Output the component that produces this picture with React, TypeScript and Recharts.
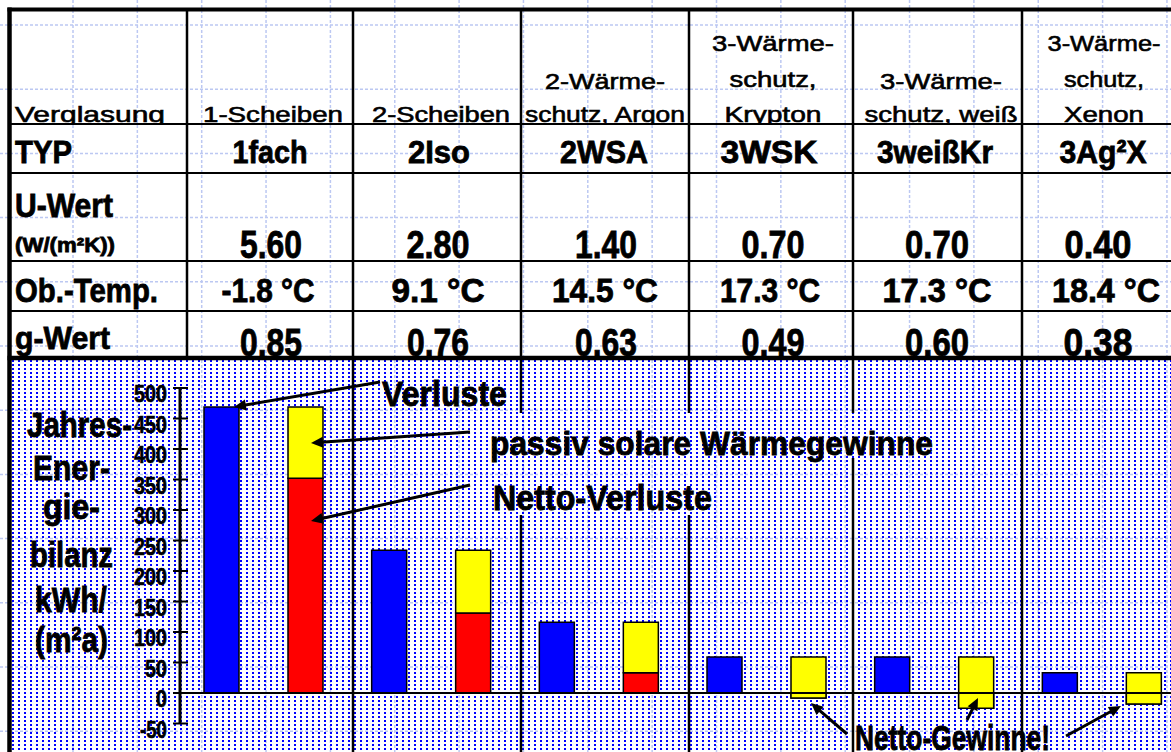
import React from 'react';
import { BarChart, Bar, XAxis, YAxis, ReferenceLine } from 'recharts';

// ---------- data ----------
const typen = ['1fach', '2Iso', '2WSA', '3WSK', '3weißKr', '3Ag²X'];
const verglasung = [
  ['1-Scheiben'],
  ['2-Scheiben'],
  ['2-Wärme-', 'schutz, Argon'],
  ['3-Wärme-', 'schutz,', 'Krypton'],
  ['3-Wärme-', 'schutz, weiß'],
  ['3-Wärme-', 'schutz,', 'Xenon'],
];
const uWert = ['5.60', '2.80', '1.40', '0.70', '0.70', '0.40'];
const obTemp = ['-1.8 °C', '9.1 °C', '14.5 °C', '17.3 °C', '17.3 °C', '18.4 °C'];
const gWert = ['0.85', '0.76', '0.63', '0.49', '0.60', '0.38'];

const verluste = [469, 234, 116, 59, 59, 33];
const nettoVerluste = [352, 131, 33, -8, -25, -18];
const solarGewinne = [117, 103, 83, 67, 84, 51];

const yTicks = [-50, 0, 50, 100, 150, 200, 250, 300, 350, 400, 450, 500];
const yLabel = ['Jahres-', 'Ener-', 'gie-', 'bilanz', 'kWh/', '(m²a)'];

const data = typen.map((t, i) => ({
  typ: t,
  verluste: verluste[i],
  netto: nettoVerluste[i],
  gewinne: solarGewinne[i],
}));

// ---------- layout ----------
const FONT = '"Liberation Sans", Arial, sans-serif';
const colX = [187, 353, 521, 689, 853, 1022];
const headerCenters = [273, 441, 605, 773, 941, 1104];
const headerW = [[140], [138], [120, 160], [122, 87, 97], [122, 153], [113, 80, 80]];
const headerBase: Record<number, number[]> = { 1: [122], 2: [89, 122], 3: [51, 87, 122] };
const typCenters = [270, 439, 604, 769, 935, 1103];
const typW = [75, 62, 88, 97, 116, 87];
const valCenters = [271, 438, 606, 773, 937, 1098];
const uW = [62, 63, 62, 63, 64, 67];
const tCenters = [268, 438, 605, 770, 937, 1106];
const tW = [93, 93, 106, 100, 109, 108];
const gW = [62, 62, 62, 63, 64, 69];
const yLabelLayout = [
  { x: 27, w: 105, b: 437 },
  { x: 33, w: 77, b: 480 },
  { x: 43, w: 57, b: 519 },
  { x: 30, w: 83, b: 567 },
  { x: 35, w: 72, b: 612 },
  { x: 35, w: 73, b: 652 },
];

const T = ({ x, y, w, size, bold = true, children, anchor = 'start' }: any) => (
  <text
    x={anchor === 'middle' ? x - w / 2 : x}
    y={y}
    fontSize={size}
    fontFamily={FONT}
    fontWeight={bold ? 'bold' : 'normal'}
    textLength={w}
    lengthAdjust="spacingAndGlyphs"
    fill="#000"
    stroke="#000"
    strokeWidth={bold ? 0.8 : 0.6}
  >
    {children}
  </text>
);

const Arrow = ({ x1, y1, x2, y2 }: any) => {
  const dx = x2 - x1;
  const dy = y2 - y1;
  const len = Math.sqrt(dx * dx + dy * dy);
  const ux = dx / len;
  const uy = dy / len;
  const hl = 12;
  const hw = 5.5;
  const bx = x2 - ux * hl;
  const by = y2 - uy * hl;
  const pts = `${x2},${y2} ${bx - uy * hw},${by + ux * hw} ${bx + uy * hw},${by - ux * hw}`;
  return (
    <g>
      <line x1={x1} y1={y1} x2={bx + ux * 2} y2={by + uy * 2} stroke="#000" strokeWidth={3} />
      <polygon points={pts} fill="#000" />
    </g>
  );
};

const YTick = (props: any) => {
  const { x, y, payload } = props;
  const label = String(payload.value);
  const w = label.length * 11 - (label.startsWith('-') ? 6 : 0);
  return (
    <g>
      <line x1={x - 7} x2={x + 8} y1={y} y2={y} stroke="#000" strokeWidth={2} />
      <text
        x={x - 13 - w}
        y={y + 14}
        fontSize={24}
        fontWeight="bold"
        fontFamily={FONT}
        textLength={w}
        lengthAdjust="spacingAndGlyphs"
        fill="#000"
        stroke="#000"
        strokeWidth={0.6}
      >
        {label}
      </text>
    </g>
  );
};

const W = 1171;
const H = 752;

export default function App() {
  const gridV: number[] = [];
  for (let x = 73; x < W; x += 64.35) gridV.push(x);
  const gridH: number[] = [];
  for (let y = 25; y < H; y += 64.2) gridH.push(y);

  return (
    <div style={{ position: 'absolute', left: 0, top: 0, width: W, height: H, overflow: 'hidden', background: '#fff' }}>
      {/* background: spreadsheet grid + dotted chart fill */}
      <svg width={W} height={H} style={{ position: 'absolute', left: 0, top: 0 }}>
        <defs>
          <pattern id="dots" width="6" height="4" patternUnits="userSpaceOnUse">
            <rect x="0" y="0" width="2" height="2" fill="#0000ff" />
          </pattern>
        </defs>
        {gridV.map((x) => (
          <line key={'v' + x} x1={x} x2={x} y1={0} y2={H} stroke="#bcc8f2" strokeWidth={1.5} strokeDasharray="3 2" />
        ))}
        {gridH.map((y) => (
          <line key={'h' + y} x1={0} x2={W} y1={y} y2={y} stroke="#bcc8f2" strokeWidth={1.5} strokeDasharray="3 2" />
        ))}
        <rect x={11.5} y={360} width={W - 11.5} height={H - 360} fill="url(#dots)" />
      </svg>

      {/* chart */}
      <div style={{ position: 'absolute', left: 0, top: 0 }}>
        <BarChart
          width={1200}
          height={752}
          data={data}
          margin={{ top: 388, right: 14, bottom: 28.5, left: 120 }}
          barGap={49}
          barSize={35}
        >
          <XAxis dataKey="typ" hide />
          <YAxis
            domain={[-50, 500]}
            ticks={yTicks}
            interval={0}
            width={60}
            axisLine={{ stroke: '#000', strokeWidth: 3 }}
            tickLine={false}
            tickSize={0}
            tickMargin={0}
            tick={YTick}
          />
          <Bar dataKey="verluste" stackId="a" fill="#0000ff" stroke="#000" strokeWidth={1.5} barSize={35} isAnimationActive={false} />
          <Bar dataKey="netto" stackId="b" fill="#ff0000" stroke="#000" strokeWidth={1.5} barSize={35} isAnimationActive={false} />
          <Bar dataKey="gewinne" stackId="b" fill="#ffff00" stroke="#000" strokeWidth={1.5} barSize={35} isAnimationActive={false} />
          <ReferenceLine y={0} stroke="#000" strokeWidth={2} />
        </BarChart>
      </div>

      {/* table + annotations */}
      <svg width={W} height={H} style={{ position: 'absolute', left: 0, top: 0, pointerEvents: 'none' }}>
        <defs>
          <clipPath id="hdrClip">
            <rect x={0} y={0} width={W} height={123} />
          </clipPath>
          <clipPath id="gClip">
            <rect x={0} y={311} width={W} height={45} />
          </clipPath>
        </defs>

        {/* header row */}
        <g clipPath="url(#hdrClip)">
          <T x={15} y={122} w={150} size={22} bold={false}>Verglasung</T>
          {verglasung.map((lines, c) =>
            lines.map((ln, k) => (
              <T
                key={c + '-' + k}
                x={headerCenters[c]}
                y={headerBase[lines.length][k]}
                w={headerW[c][k]}
                size={22}
                bold={false}
                anchor="middle"
              >
                {ln}
              </T>
            ))
          )}
        </g>

        {/* TYP row */}
        <T x={15} y={163} w={57} size={32}>TYP</T>
        {typen.map((t, c) => (
          <T key={'t' + c} x={typCenters[c]} y={163} w={typW[c]} size={32} anchor="middle">{t}</T>
        ))}

        {/* U-Wert */}
        <T x={15} y={217} w={98} size={33}>U-Wert</T>
        <T x={15} y={252} w={100} size={20}>(W/(m²K))</T>
        {uWert.map((t, c) => (
          <T key={'u' + c} x={valCenters[c]} y={258} w={uW[c]} size={38} anchor="middle">{t}</T>
        ))}

        {/* Ob.-Temp */}
        <T x={15} y={302} w={143} size={34}>Ob.-Temp.</T>
        {obTemp.map((t, c) => (
          <T key={'o' + c} x={tCenters[c]} y={302} w={tW[c]} size={34} anchor="middle">{t}</T>
        ))}

        {/* g-Wert */}
        <g clipPath="url(#gClip)">
          <T x={15} y={349} w={95} size={32}>g-Wert</T>
          {gWert.map((t, c) => (
            <T key={'g' + c} x={valCenters[c]} y={356} w={gW[c]} size={38} anchor="middle">{t}</T>
          ))}
        </g>

        {/* table lines */}
        {[124, 173, 261, 311].map((y) => (
          <line key={'r' + y} x1={8} x2={W} y1={y} y2={y} stroke="#000" strokeWidth={2} />
        ))}
        <line x1={7.5} x2={W} y1={9.5} y2={9.5} stroke="#000" strokeWidth={4} />
        <line x1={7.5} x2={W} y1={358} y2={358} stroke="#000" strokeWidth={4.5} />
        <line x1={9.5} x2={9.5} y1={7.5} y2={H} stroke="#000" strokeWidth={4.5} />
        {colX.map((x) => (
          <line key={'c' + x} x1={x} x2={x} y1={9.5} y2={358} stroke="#000" strokeWidth={2.5} />
        ))}

        {/* column lines continuing through chart area */}
        <line x1={353} x2={353} y1={358} y2={H} stroke="#000" strokeWidth={2.5} />
        <line x1={521} x2={521} y1={358} y2={413} stroke="#000" strokeWidth={2.5} />
        <line x1={521} x2={521} y1={515} y2={H} stroke="#000" strokeWidth={2.5} />
        <line x1={689} x2={689} y1={358} y2={413} stroke="#000" strokeWidth={2.5} />
        <line x1={689} x2={689} y1={515} y2={H} stroke="#000" strokeWidth={2.5} />
        <line x1={853} x2={853} y1={358} y2={413} stroke="#000" strokeWidth={2.5} />
        <line x1={853} x2={853} y1={458} y2={H} stroke="#000" strokeWidth={2.5} />
        <line x1={1022} x2={1022} y1={358} y2={H} stroke="#000" strokeWidth={2.5} />

        {/* y-axis title */}
        {yLabel.map((t, i) => (
          <T key={'yl' + i} x={yLabelLayout[i].x} y={yLabelLayout[i].b} w={yLabelLayout[i].w} size={35}>{t}</T>
        ))}

        {/* annotations */}
        <T x={382} y={406} w={125} size={35}>Verluste</T>
        <T x={490} y={455} w={443} size={34}>passiv solare Wärmegewinne</T>
        <T x={493} y={510} w={219} size={35}>Netto-Verluste</T>
        <T x={855} y={750} w={195} size={35}>Netto-Gewinne!</T>

        <Arrow x1={380} y1={382} x2={234} y2={407} />
        <Arrow x1={470} y1={432} x2={311} y2={443} />
        <Arrow x1={470} y1={485} x2={311} y2={521} />
        <Arrow x1={847} y1={734} x2={811} y2={703} />
        <Arrow x1={967} y1={720} x2={978} y2={698} />
        <Arrow x1={1066} y1={736} x2={1121} y2={706} />
      </svg>
    </div>
  );
}
